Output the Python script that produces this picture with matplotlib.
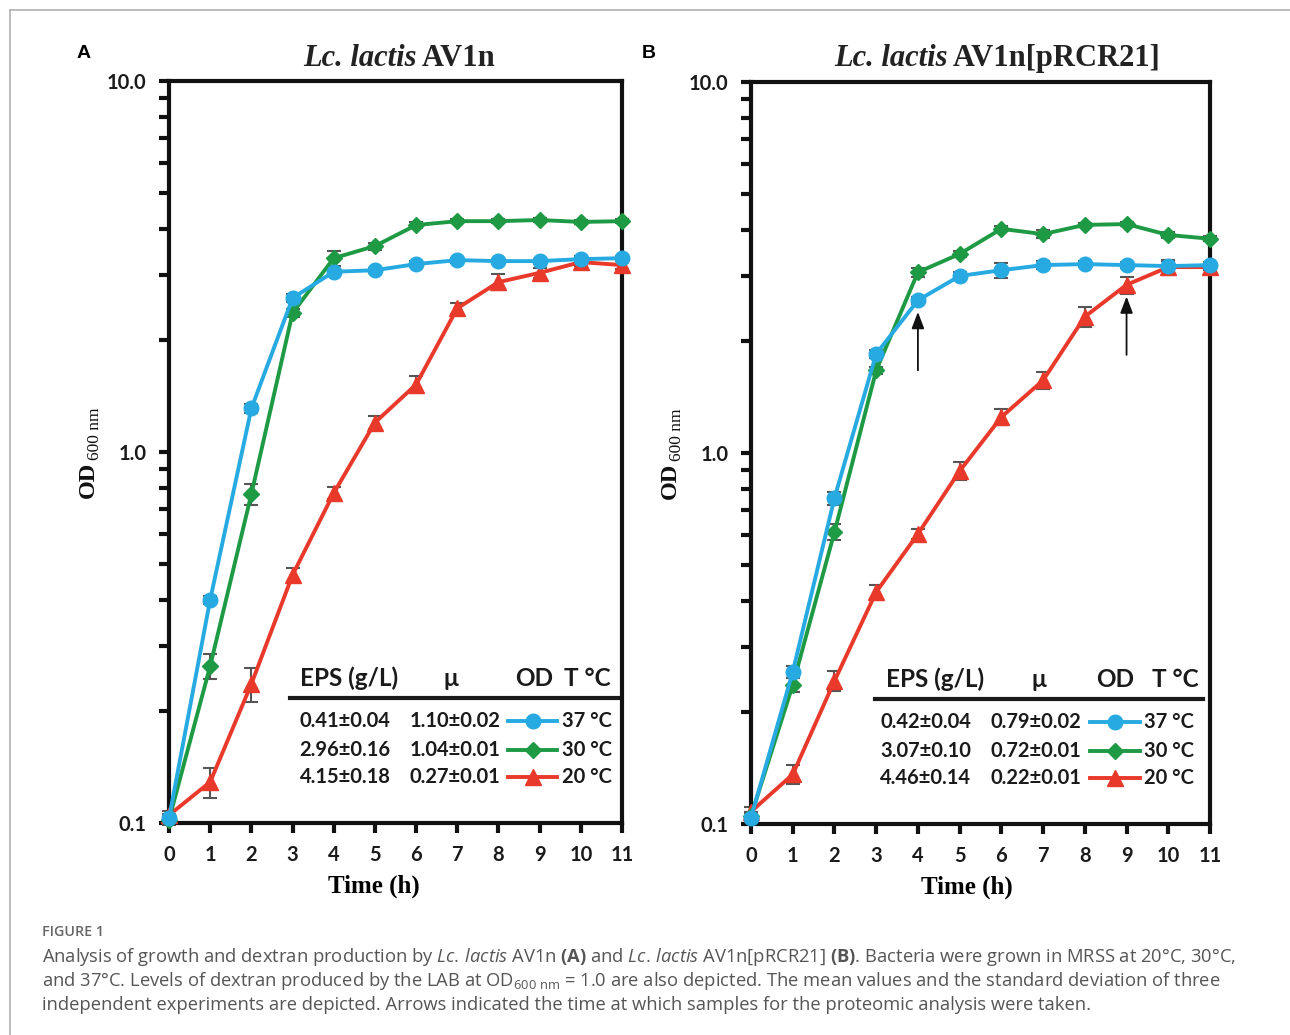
import numpy as np
import matplotlib
matplotlib.use("Agg")
import matplotlib.pyplot as plt
from matplotlib.lines import Line2D
from matplotlib.ticker import LogLocator, NullFormatter, FixedLocator, FixedFormatter

# ---- data ----
hours = np.arange(12)

a_od37 = [0.103, 0.40, 1.31, 2.60, 3.06, 3.09, 3.21, 3.29, 3.27, 3.27, 3.31, 3.33]
a_od30 = [0.102, 0.265, 0.77, 2.37, 3.33, 3.59, 4.09, 4.19, 4.19, 4.22, 4.17, 4.19]
a_od20 = [0.105, 0.129, 0.237, 0.466, 0.775, 1.20, 1.52, 2.44, 2.87, 3.04, 3.25, 3.19]
a_err37 = [0.003, 0.01, 0.04, 0.06, 0.05, 0.05, 0.06, 0.05, 0.05, 0.05, 0.06, 0.05]
a_err30 = [0.003, 0.02, 0.05, 0.06, 0.15, 0.08, 0.08, 0.06, 0.06, 0.06, 0.06, 0.06]
a_err20 = [0.003, 0.012, 0.025, 0.02, 0.03, 0.05, 0.08, 0.08, 0.14, 0.10, 0.08, 0.08]

b_od37 = [0.104, 0.257, 0.756, 1.85, 2.58, 3.00, 3.11, 3.21, 3.23, 3.21, 3.19, 3.21]
b_od30 = [0.105, 0.237, 0.612, 1.67, 3.07, 3.44, 4.02, 3.89, 4.12, 4.14, 3.87, 3.78]
b_od20 = [0.108, 0.136, 0.243, 0.422, 0.605, 0.894, 1.25, 1.57, 2.33, 2.84, 3.17, 3.17]
b_err37 = [0.003, 0.01, 0.03, 0.05, 0.06, 0.08, 0.15, 0.08, 0.06, 0.06, 0.10, 0.06]
b_err30 = [0.003, 0.01, 0.03, 0.04, 0.08, 0.06, 0.06, 0.10, 0.06, 0.06, 0.08, 0.06]
b_err20 = [0.003, 0.008, 0.015, 0.02, 0.02, 0.05, 0.06, 0.08, 0.14, 0.15, 0.15, 0.06]

temps = ["37 °C", "30 °C", "20 °C"]
a_eps = ["0.41±0.04", "2.96±0.16", "4.15±0.18"]
a_mu = ["1.10±0.02", "1.04±0.01", "0.27±0.01"]
b_eps = ["0.42±0.04", "3.07±0.10", "4.46±0.14"]
b_mu = ["0.79±0.02", "0.72±0.01", "0.22±0.01"]
headers = ["EPS (g/L)", "μ", "OD", "T °C"]

# proteomic sampling times in panel B (arrows): (hour, series index)
arrow_points = [(4, 0), (9, 2)]

colors = ["#27AAE1", "#1E9A45", "#E8392A"]
markers = ["o", "D", "^"]
msizes = [10.5, 8, 11]

SANS = "Lato"
SERIF = "Liberation Serif"

plt.rcParams["mathtext.fontset"] = "custom"
plt.rcParams["mathtext.rm"] = "Open Sans"
plt.rcParams["mathtext.it"] = "Open Sans:italic"
plt.rcParams["mathtext.bf"] = "Open Sans:bold"
plt.rcParams["mathtext.sf"] = "Open Sans"

fig = plt.figure(figsize=(12.9, 10.35), dpi=100)
overlay = fig.add_axes([0, 0, 1, 1], zorder=-5)
overlay.axis("off")
overlay.set_xlim(0, 1)
overlay.set_ylim(0, 1)

# thin grey frame (top and left)
fig.add_artist(Line2D([10 / 1290, 1], [1 - 10 / 1035, 1 - 10 / 1035], color="#b0b0b0", lw=1.2))
fig.add_artist(Line2D([10 / 1290, 10 / 1290], [0, 1 - 10 / 1035], color="#b0b0b0", lw=1.2))

ax_a = fig.add_axes([169 / 1290, 1 - 823 / 1035, 453 / 1290, 742 / 1035])
ax_b = fig.add_axes([751 / 1290, 1 - 824 / 1035, 459 / 1290, 742 / 1035])


def style_axes(ax, label_x):
    ax.set_yscale("log")
    ax.set_xlim(0, 11)
    ax.set_ylim(0.1, 10)
    for sp in ax.spines.values():
        sp.set_linewidth(3)
        sp.set_color("#111111")
    ax.xaxis.set_major_locator(FixedLocator(range(12)))
    ax.yaxis.set_major_locator(FixedLocator([0.1, 1, 10]))
    ax.yaxis.set_major_formatter(FixedFormatter(["0.1", "1.0", "10.0"]))
    ax.yaxis.set_minor_locator(LogLocator(base=10, subs=np.arange(2, 10)))
    ax.yaxis.set_minor_formatter(NullFormatter())
    ax.tick_params(axis="both", which="both", direction="out", length=7, width=3,
                   color="#111111", top=False, right=False)
    ax.tick_params(axis="x", pad=9)
    ax.tick_params(axis="y", pad=9)
    for lab in ax.get_xticklabels() + ax.get_yticklabels():
        lab.set_fontfamily(SANS)
        lab.set_fontweight("bold")
        lab.set_fontsize(14.5)
        lab.set_color("#1a1a1a")
    ax.set_xlabel("Time (h)", fontfamily=SERIF, fontweight="bold", fontsize=18)
    ax.xaxis.set_label_coords(label_x, -0.070)


def draw_series(ax, series, errs):
    for i, (od, err) in enumerate(zip(series, errs)):
        ax.errorbar(hours, od, yerr=err, fmt="none", ecolor="#555555", elinewidth=1.5,
                    capsize=5, capthick=1.5, zorder=2, clip_on=False)
        ax.plot(hours, od, color=colors[i], lw=2.8, marker=markers[i], ms=msizes[i],
                mec=colors[i], zorder=3 + (2 - i) * 0.1, clip_on=False)


def draw_table(ax, eps, mu, xs):
    fnt = dict(fontfamily=SANS, fontweight="bold", color="#1a1a1a", transform=ax.transAxes)
    for h, x in zip(headers, xs["head"]):
        ax.text(x, 0.195, h, ha="center", va="center", fontsize=17.5, **fnt)
    ax.add_line(Line2D(xs["rule"], [0.168, 0.168], transform=ax.transAxes, color="#1a1a1a", lw=3))
    rows_y = [0.137, 0.099, 0.062]
    for i, y in enumerate(rows_y):
        ax.text(xs["eps"], y, eps[i], ha="center", va="center", fontsize=14.5, **fnt)
        ax.text(xs["mu"], y, mu[i], ha="center", va="center", fontsize=14.5, **fnt)
        ax.add_line(Line2D(xs["sample"], [y, y], transform=ax.transAxes, color=colors[i], lw=2.8))
        ax.add_line(Line2D([np.mean(xs["sample"])], [y], transform=ax.transAxes, color=colors[i],
                           marker=markers[i], ms=msizes[i], lw=0))
        ax.text(xs["temp"], y, temps[i], ha="left", va="center", fontsize=14.5, **fnt)


def title(x, y, italic, rest):
    t1 = overlay.text(x, y, italic, fontfamily=SERIF, fontstyle="italic", fontweight="bold",
                      fontsize=22, ha="left", va="baseline", color="#222222")
    overlay.annotate(rest, xy=(1, 0), xycoords=t1, va="bottom", ha="left",
                     fontfamily=SERIF, fontweight="bold", fontsize=22, color="#222222")


def od_label(x, y):
    t1 = overlay.text(x, y, "OD", rotation=90, fontfamily=SERIF, fontweight="bold",
                      fontsize=17.5, ha="center", va="bottom", color="#111111")
    overlay.annotate("600 nm", xy=(1, 1), xycoords=t1, xytext=(3, 1), textcoords="offset points",
                     rotation=90, ha="right", va="bottom", fontfamily=SERIF, fontsize=12.5,
                     color="#111111")


style_axes(ax_a, 0.452)
style_axes(ax_b, 0.471)
draw_series(ax_a, [a_od37, a_od30, a_od20], [a_err37, a_err30, a_err20])
draw_series(ax_b, [b_od37, b_od30, b_od20], [b_err37, b_err30, b_err20])

draw_table(ax_a, a_eps, a_mu, dict(head=[0.397, 0.623, 0.806, 0.923], rule=[0.267, 0.991],
                                   eps=0.389, mu=0.631, sample=[0.748, 0.857], temp=0.868))
draw_table(ax_b, b_eps, b_mu, dict(head=[0.401, 0.627, 0.793, 0.924], rule=[0.270, 0.985],
                                   eps=0.381, mu=0.621, sample=[0.739, 0.847], temp=0.856))

b_series = [b_od37, b_od30, b_od20]
for hr, si in arrow_points:
    tip = b_series[si][hr] / 1.075
    ax_b.annotate("", xy=(hr, tip), xytext=(0, -42), textcoords="offset points",
                  arrowprops=dict(arrowstyle="-|>,head_length=1.0,head_width=0.38",
                                  color="#111111", lw=1.3, shrinkA=0, shrinkB=0))

# panel letters and titles
overlay.text(84 / 1290, 1 - 54 / 1035, "A", fontfamily="Liberation Sans", fontweight="bold",
             fontsize=14, ha="center", va="center")
overlay.text(649 / 1290, 1 - 54 / 1035, "B", fontfamily="Liberation Sans", fontweight="bold",
             fontsize=14, ha="center", va="center")
title(303 / 1290, 1 - 66 / 1035, "Lc. lactis", " AV1n")
title(834 / 1290, 1 - 66 / 1035, "Lc. lactis", " AV1n[pRCR21]")
od_label(88 / 1290, 1 - 498 / 1035)
od_label(670 / 1290, 1 - 499 / 1035)

# caption
cap = dict(fontfamily="Open Sans", fontsize=13.2, color="#555555", ha="left", va="baseline")
overlay.text(42 / 1290, 1 - 936 / 1035, "FIGURE 1", fontfamily="Open Sans", fontweight="semibold",
             fontsize=10.3, color="#666666", ha="left", va="baseline")
lines = [
    r"Analysis of growth and dextran production by $\mathit{Lc.\,lactis}$ AV1n $\mathbf{(A)}$ and "
    r"$\mathit{Lc.\,lactis}$ AV1n[pRCR21] $\mathbf{(B)}$. Bacteria were grown in MRSS at 20°C, 30°C,",
    r"and 37°C. Levels of dextran produced by the LAB at OD$_{\mathrm{600\ nm}}$ = 1.0 are also depicted. "
    r"The mean values and the standard deviation of three",
    "independent experiments are depicted. Arrows indicated the time at which samples for the "
    "proteomic analysis were taken.",
]
for k, s in enumerate(lines):
    overlay.text(42 / 1290, 1 - (962 + 24 * k) / 1035, s, **cap)

fig.savefig("out.png", dpi=100, facecolor="white")
